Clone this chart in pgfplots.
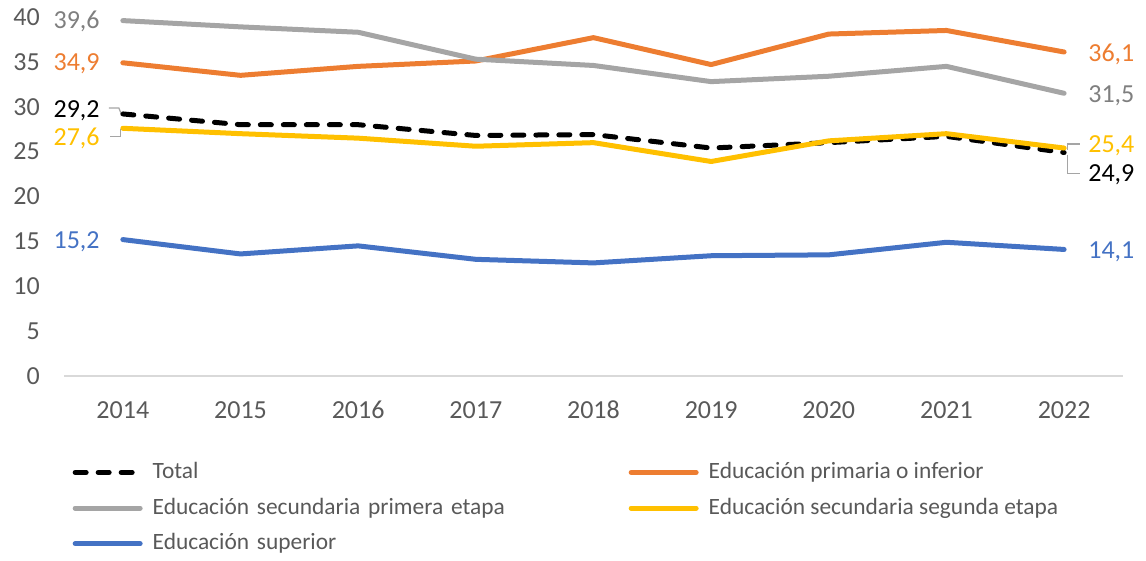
\documentclass[border=0pt]{standalone}
\usepackage{pgfplots}
\pgfplotsset{compat=1.18}
\usepackage{fontspec}
\setmainfont{Carlito}
\definecolor{cOr}{HTML}{ED7D31}
\definecolor{cGr}{HTML}{A5A5A5}
\definecolor{cYe}{HTML}{FFC000}
\definecolor{cBl}{HTML}{4472C4}
\definecolor{tickgray}{HTML}{595959}
\definecolor{labgray}{HTML}{7F7F7F}
\definecolor{axgray}{HTML}{D9D9D9}
\definecolor{leadgray}{HTML}{A5A5A5}
\begin{document}
\fontsize{26pt}{30pt}\selectfont
\begin{tikzpicture}
\useasboundingbox (0,0) rectangle (1146pt,-561pt);
\begin{axis}[
  at={(64pt,-376pt)}, anchor=south west,
  scale only axis, width=1059pt, height=359pt,
  xmin=2013.5, xmax=2022.5, ymin=0, ymax=40,
  xtick={2014,2015,2016,2017,2018,2019,2020,2021,2022},
  ytick={0,5,10,15,20,25,30,35,40},
  axis x line=bottom, axis y line=left,
  x axis line style={draw=axgray, line width=1.2pt, -},
  y axis line style={draw=none},
  major tick length=0pt,
  tick style={draw=none},
  /pgf/number format/assume math mode=true,
  /pgf/number format/1000 sep={},
  ticklabel style={font=\fontsize{26pt}{30pt}\selectfont, text=tickgray, inner sep=0pt},
  yticklabel style={anchor=east, xshift=-24pt},
  xticklabel style={anchor=north, yshift=-25pt},
  clip=false,
  legend columns=2,
  legend cell align=left,
  legend image code/.code={\draw[#1] (0pt,0pt) -- (65pt,0pt);},
  legend style={at={(0.008,-0.24)}, anchor=north west, draw=none, fill=none,
    font=\fontsize{23.4pt}{28pt}\selectfont, text=tickgray,
    inner sep=0pt, row sep=15.5pt,
    nodes={inner sep=0pt, align=left},
    /tikz/every odd column/.append style={column sep=10pt}},
]
\addplot[black, line width=5pt, dash pattern=on 11pt off 12pt, line cap=round, line join=round]
  coordinates {(2014,29.2) (2015,28.0) (2016,28.0) (2017,26.8) (2018,26.9) (2019,25.4) (2020,26.0) (2021,26.7) (2022,24.9)};
\addlegendentry[text width=476pt, align=left]{Total}
\addplot[cOr, line width=5pt, line cap=round, line join=round]
  coordinates {(2014,34.9) (2015,33.5) (2016,34.5) (2017,35.1) (2018,37.7) (2019,34.7) (2020,38.1) (2021,38.5) (2022,36.1)};
\addlegendentry{Educación primaria o inferior}
\addplot[cGr, line width=5pt, line cap=round, line join=round]
  coordinates {(2014,39.6) (2015,38.9) (2016,38.3) (2017,35.3) (2018,34.6) (2019,32.8) (2020,33.4) (2021,34.5) (2022,31.5)};
\addlegendentry[text width=476pt, align=left]{Educación secundaria primera etapa}
\addplot[cYe, line width=5pt, line cap=round, line join=round]
  coordinates {(2014,27.6) (2015,27.0) (2016,26.5) (2017,25.6) (2018,26.0) (2019,23.9) (2020,26.2) (2021,27.0) (2022,25.4)};
\addlegendentry{Educación secundaria segunda etapa}
\addplot[cBl, line width=5pt, line cap=round, line join=round]
  coordinates {(2014,15.2) (2015,13.6) (2016,14.5) (2017,13.0) (2018,12.6) (2019,13.4) (2020,13.5) (2021,14.9) (2022,14.1)};
\addlegendentry[text width=476pt, align=left]{Educación superior}

% data labels left
\node[anchor=east, inner sep=0pt, text=labgray, xshift=-23pt, yshift=-1pt] at (axis cs:2014,39.6) {39,6};
\node[anchor=east, inner sep=0pt, text=cOr, xshift=-23pt, yshift=-1pt] at (axis cs:2014,34.9) {34,9};
\node[anchor=east, inner sep=0pt, text=black, xshift=-23pt, yshift=3pt] at (axis cs:2014,29.2) {29,2};
\node[anchor=east, inner sep=0pt, text=cYe, xshift=-23pt, yshift=-10pt] at (axis cs:2014,27.6) {27,6};
\node[anchor=east, inner sep=0pt, text=cBl, xshift=-23pt, yshift=-2pt] at (axis cs:2014,15.2) {15,2};
% data labels right
\node[anchor=west, inner sep=0pt, text=cOr, xshift=24pt, yshift=-2pt] at (axis cs:2022,36.1) {36,1};
\node[anchor=west, inner sep=0pt, text=labgray, xshift=24pt, yshift=-2pt] at (axis cs:2022,31.5) {31,5};
\node[anchor=west, inner sep=0pt, text=cYe, xshift=24pt, yshift=2pt] at (axis cs:2022,25.4) {25,4};
\node[anchor=west, inner sep=0pt, text=black, xshift=24pt, yshift=-22pt] at (axis cs:2022,24.9) {24,9};
\node[anchor=west, inner sep=0pt, text=cBl, xshift=24pt, yshift=-2pt] at (axis cs:2022,14.1) {14,1};
% leader lines
\draw[leadgray, line width=1.2pt] (axis cs:2014,29.2) ++(-2pt,1pt) -- ++(-2pt,5pt) -- ++(-10pt,0pt);
\draw[leadgray, line width=1.2pt] (axis cs:2014,27.6) ++(-2pt,-1pt) -- ++(0pt,-7pt) -- ++(-11pt,0pt);
\draw[leadgray, line width=1.2pt] (axis cs:2022,25.4) ++(3pt,4pt) -- ++(13pt,0pt);
\draw[leadgray, line width=1.2pt] (axis cs:2022,25.4) ++(3pt,4pt) -- ++(0pt,-6pt);
\draw[leadgray, line width=1.2pt] (axis cs:2022,24.9) ++(3pt,-2pt) -- ++(0pt,-19pt) -- ++(13pt,0pt);
\end{axis}
\end{tikzpicture}
\end{document}
